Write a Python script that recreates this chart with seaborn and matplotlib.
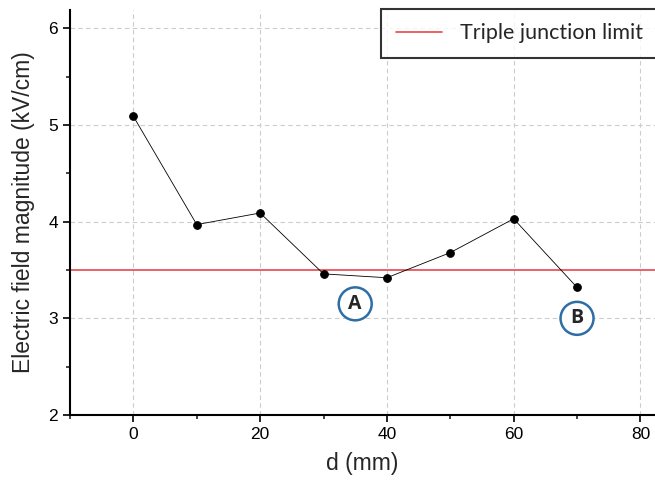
import matplotlib
matplotlib.use("Agg")
import matplotlib.pyplot as plt
import seaborn as sns
import pandas as pd
from matplotlib.patches import Ellipse
from matplotlib.ticker import MultipleLocator

d_mm = [0, 10, 20, 30, 40, 50, 60, 70]
field = [5.09, 3.97, 4.09, 3.46, 3.42, 3.68, 4.03, 3.32]
limit = 3.5
limit_label = "Triple junction limit"
annotations = [("A", 35, 3.15), ("B", 70, 3.0)]

sns.set_style("ticks")
plt.rcParams['font.family'] = ['Liberation Sans', 'DejaVu Sans']

fig = plt.figure(figsize=(6.55, 4.88), dpi=100)
ax = fig.add_axes([70/655, 1-415/488, 1-70/655, (415-10)/488])

df = pd.DataFrame({"d": d_mm, "E": field})
sns.lineplot(data=df, x="d", y="E", ax=ax, color="black", linewidth=0.6,
             marker="o", markersize=5.5, markeredgecolor="black", zorder=3)
ax.axhline(limit, color="#e8474c", linewidth=1.2, label=limit_label, zorder=2)

ax.set_xlim(-10, 82.3)
ax.set_ylim(2, 6.19)
ax.xaxis.set_major_locator(MultipleLocator(20))
ax.xaxis.set_minor_locator(MultipleLocator(10))
ax.yaxis.set_major_locator(MultipleLocator(1))
ax.yaxis.set_minor_locator(MultipleLocator(0.5))
ax.grid(True, which="major", linestyle=(0, (4, 3)), color="#cccccc", linewidth=0.8)
ax.set_axisbelow(True)

for s in ["top", "right"]:
    ax.spines[s].set_visible(False)
for s in ["left", "bottom"]:
    ax.spines[s].set_linewidth(1.5)
    ax.spines[s].set_color("black")
ax.tick_params(which="major", direction="out", length=5, width=1.2, labelsize=12.5, colors="black")
ax.tick_params(which="minor", direction="out", length=3, width=1.2)

ax.set_xlabel("d (mm)", fontsize=16.5, labelpad=7)
ax.set_ylabel("Electric field magnitude (kV/cm)", fontsize=16.5, labelpad=10)

for txt, x, y in annotations:
    ax.add_patch(Ellipse((x, y), width=33/6.34, height=33/96.75, facecolor="white",
                         edgecolor="#2f6ea5", linewidth=1.8, zorder=4))
    ax.text(x, y, txt, ha="center", va="center", fontsize=14, fontweight="bold",
            family=["Open Sans", "DejaVu Sans"], zorder=5)

leg = ax.legend(loc="upper right", bbox_to_anchor=(1.004, 1.003), frameon=True, fancybox=False,
                prop={"family": ["Lato", "DejaVu Sans"], "size": 15.5},
                handlelength=2.14, borderpad=0.68, handletextpad=0.84, borderaxespad=0)
leg.get_frame().set_edgecolor("black")
leg.get_frame().set_linewidth(1.5)

fig.savefig("out.png", dpi=100)
